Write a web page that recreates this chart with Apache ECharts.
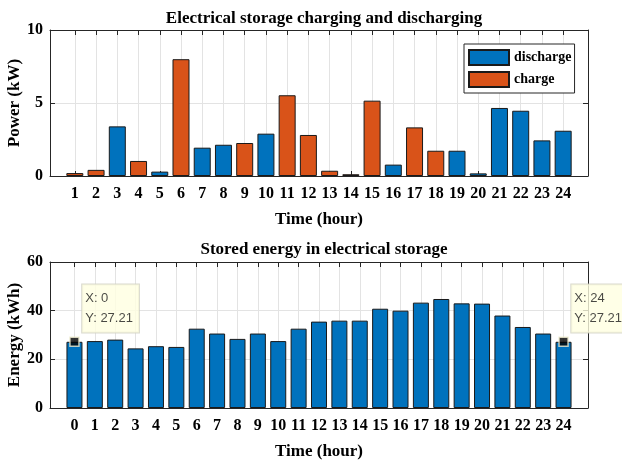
<!DOCTYPE html>
<html>
<head>
<meta charset="utf-8">
<script src="https://cdn.jsdelivr.net/npm/echarts@6/dist/echarts.min.js"></script>
<style>
  html, body { margin: 0; padding: 0; background: #fff; }
  #chart { width: 622px; height: 464px; }
</style>
</head>
<body>
<div id="chart"></div>
<script>
// top plot: hours 1..24, power in kW (null = not that kind of hour)
const hours = [1,2,3,4,5,6,7,8,9,10,11,12,13,14,15,16,17,18,19,20,21,22,23,24];
const discharge = [null,null,3.4,null,0.3,null,1.94,2.14,null,2.9,null,null,
                   null,null,null,0.78,null,null,1.73,0.18,4.66,4.47,2.44,3.1];
const charge = [0.2,0.42,null,1.03,null,8.0,null,null,2.26,null,5.53,2.81,
                0.36,0.12,5.16,null,3.33,1.73,null,null,null,null,null,null];

// bottom plot: hours 0..24, stored energy in kWh
const energyHours = [0,1,2,3,4,5,6,7,8,9,10,11,12,13,14,15,16,17,18,19,20,21,22,23,24];
const energy = [27.21,27.5,28.1,24.5,25.4,25.1,32.6,30.6,28.4,30.6,27.5,32.6,35.5,
                35.9,35.9,40.8,40.0,43.3,44.8,43.0,42.9,38.0,33.3,30.6,27.21];
const tipHours = [0, 24];

const serif = 'Liberation Serif';
const axisCol = '#262626';
const gridCol = '#e3e3e3';
const blue = '#0072BD';
const orange = '#D95319';

function pairs(xs, ys) {
    const out = [];
    xs.forEach((x, i) => { if (ys[i] !== null) out.push([x, ys[i]]); });
    return out;
}

// MATLAB-like x limits: a little padding past the first and last bar
function bottomAxis(grid, min, max, ticks) {
    return {
        type: 'value', gridIndex: grid, min: min, max: max,
        position: 'bottom',
        axisLine: { show: true, onZero: false, lineStyle: { color: axisCol, width: 1 } },
        axisTick: { show: true, inside: true, length: 5, customValues: ticks, lineStyle: { color: axisCol } },
        splitLine: { show: true, lineStyle: { color: gridCol } },
        axisLabel: {
            margin: 10, color: '#000', fontFamily: serif, fontWeight: 'bold', fontSize: 16,
            customValues: ticks
        },
        name: 'Time (hour)', nameLocation: 'middle', nameGap: 35, nameMoveOverlap: false,
        nameTextStyle: { color: '#000', fontFamily: serif, fontWeight: 'bold', fontSize: 17 }
    };
}
function topAxis(grid, min, max, ticks) {
    return {
        type: 'value', gridIndex: grid, min: min, max: max,
        position: 'top',
        axisLine: { show: true, onZero: false, lineStyle: { color: axisCol, width: 1 } },
        axisTick: { show: true, inside: true, length: 5, customValues: ticks, lineStyle: { color: axisCol } },
        splitLine: { show: false }, axisLabel: { show: false }
    };
}
function leftAxis(grid, max, interval, name) {
    return {
        type: 'value', gridIndex: grid, min: 0, max: max, interval: interval,
        position: 'left',
        axisLine: { show: true, onZero: false, lineStyle: { color: axisCol, width: 1 } },
        axisTick: { show: true, inside: true, length: 5, lineStyle: { color: axisCol } },
        splitLine: { show: true, lineStyle: { color: gridCol } },
        axisLabel: { margin: 7, color: '#000', fontFamily: serif, fontWeight: 'bold', fontSize: 16 },
        name: name, nameLocation: 'middle', nameGap: 27, nameMoveOverlap: false,
        nameTextStyle: { color: '#000', fontFamily: serif, fontWeight: 'bold', fontSize: 17 }
    };
}
function rightAxis(grid, max, interval) {
    return {
        type: 'value', gridIndex: grid, min: 0, max: max, interval: interval,
        position: 'right',
        axisLine: { show: true, onZero: false, lineStyle: { color: axisCol, width: 1 } },
        axisTick: { show: true, inside: true, length: 5, lineStyle: { color: axisCol } },
        splitLine: { show: false }, axisLabel: { show: false }
    };
}

const barEdge = { borderColor: '#1a1a1a', borderWidth: 1 };

const option = {
    animation: false,
    title: [
        {
            text: 'Electrical storage charging and discharging',
            left: 319, top: 5, textAlign: 'center',
            textStyle: { fontFamily: serif, fontWeight: 'bold', fontSize: 17, color: '#000' }
        },
        {
            text: 'Stored energy in electrical storage',
            left: 319, top: 236, textAlign: 'center',
            textStyle: { fontFamily: serif, fontWeight: 'bold', fontSize: 17, color: '#000' }
        }
    ],
    legend: {
        data: ['discharge', 'charge'],
        orient: 'vertical',
        left: 464, top: 44,
        icon: 'rect',
        itemWidth: 40, itemHeight: 15, itemGap: 5,
        padding: [5, 3, 5, 4],
        backgroundColor: '#fff',
        borderColor: axisCol, borderWidth: 1, borderRadius: 0,
        textStyle: { fontFamily: serif, fontWeight: 'bold', fontSize: 14, color: '#000' }
    },
    grid: [
        { left: 50, right: 34, top: 30, height: 146, outerBoundsMode: 'none' },
        { left: 50, right: 34, top: 262, height: 146, outerBoundsMode: 'none' }
    ],
    xAxis: [
        bottomAxis(0, -0.17, 25.17, hours),
        topAxis(0, -0.17, 25.17, hours),
        bottomAxis(1, -1.2, 25.2, energyHours),
        topAxis(1, -1.2, 25.2, energyHours)
    ],
    yAxis: [
        leftAxis(0, 10, 5, 'Power (kW)'),
        rightAxis(0, 10, 5),
        leftAxis(1, 60, 20, 'Energy (kWh)'),
        rightAxis(1, 60, 20)
    ],
    series: [
        {
            name: 'discharge', type: 'bar', xAxisIndex: 0, yAxisIndex: 0,
            data: pairs(hours, discharge), barWidth: 17, barGap: '-100%',
            itemStyle: Object.assign({ color: blue }, barEdge)
        },
        {
            name: 'charge', type: 'bar', xAxisIndex: 0, yAxisIndex: 0,
            data: pairs(hours, charge), barWidth: 17, barGap: '-100%',
            itemStyle: Object.assign({ color: orange }, barEdge)
        },
        {
            name: 'energy', type: 'bar', xAxisIndex: 2, yAxisIndex: 2,
            data: pairs(energyHours, energy), barWidth: 16,
            itemStyle: Object.assign({ color: blue }, barEdge)
        },
        {
            name: 'tips', type: 'scatter', xAxisIndex: 2, yAxisIndex: 2, z: 10,
            data: tipHours.map(h => [h, energy[energyHours.indexOf(h)]]),
            symbol: 'rect', symbolSize: 9,
            itemStyle: { color: '#000', borderColor: '#efeccf', borderWidth: 1.5 },
            label: {
                show: true,
                position: [13, -52],
                formatter: p => 'X: ' + p.value[0] + '\nY: ' + p.value[1].toFixed(2),
                fontFamily: 'Liberation Sans', fontSize: 13, color: '#1a1a1a',
                lineHeight: 20,
                backgroundColor: '#ffffe1', borderColor: '#d0d0c0', borderWidth: 1,
                padding: [4, 6, 4, 3]
            }
        }
    ]
};

const chart = echarts.init(document.getElementById('chart'));
chart.setOption(option);
</script>
</body>
</html>
